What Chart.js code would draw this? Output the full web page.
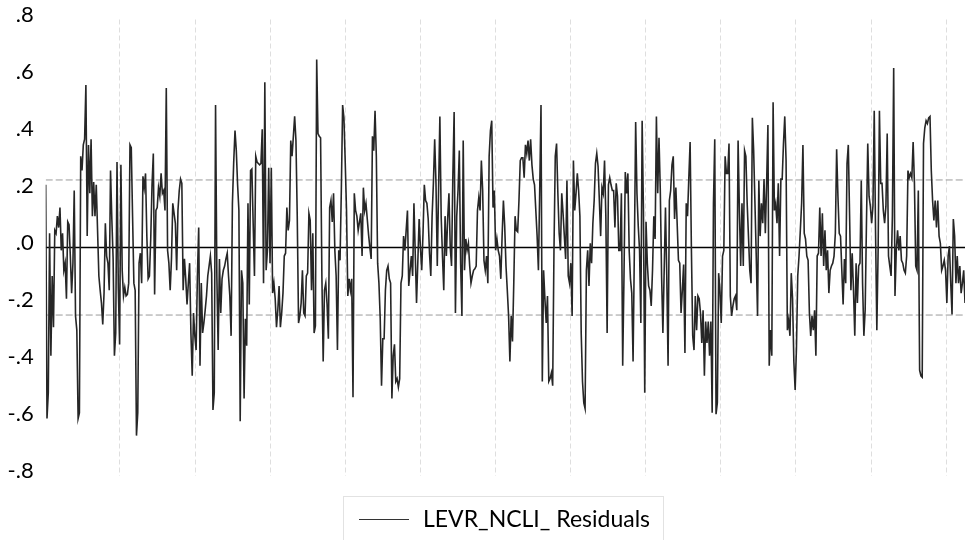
<!DOCTYPE html>
<html>
<head>
<meta charset="utf-8">
<script src="https://cdn.jsdelivr.net/npm/chart.js@4.4.1/dist/chart.umd.min.js"></script>
<style>
  html, body { margin: 0; padding: 0; background: #fff; overflow: hidden; }
  #wrap { position: relative; width: 966px; height: 540px; }
  #legend {
    position: absolute; left: 343px; top: 496px; width: 321px; height: 60px;
    border: 1px solid #e2e2e2; box-sizing: border-box;
    font-family: Lato, sans-serif; font-size: 23px; color: #000;
  }
  #legend .swatch { position: absolute; left: 15px; top: 22px; width: 50px; border-top: 1.5px solid #333; }
  #legend .label { position: absolute; left: 79px; top: 8px; line-height: 27px; white-space: nowrap; }
</style>
</head>
<body>
<div id="wrap">
  <canvas id="residChart" width="966" height="540"></canvas>
  <div id="legend"><span class="swatch"></span><span class="label">LEVR_NCLI_ Residuals</span></div>
</div>
<script>
// residuals (left to right)
const resid1 = [
  0.22, -0.60, -0.51, 0.05, -0.38, -0.10, -0.28, 0.06, 0.05, 0.11,
  0.07, 0.14, -0.01, 0.05, -0.08, -0.055, -0.18, 0.09, 0.08, -0.03,
  -0.16, -0.055, 0.20, -0.24, -0.29, -0.60, -0.58, 0.32, 0.27, 0.36,
  0.38, 0.57, 0.04, 0.36, 0.19, 0.38, 0.11, 0.23, 0.11, 0.22,
  0.06, -0.10, -0.15, -0.195, -0.27, -0.16, 0.085, -0.03, -0.055, -0.15,
  0.27, 0.10, -0.04, -0.38, -0.30, 0.30, -0.14, -0.34, 0.29, -0.08,
  -0.17, -0.14, -0.17, -0.165, -0.125, 0.36, 0.35, 0.11, -0.125, -0.15,
  -0.66, -0.58, -0.055, -0.02, -0.125, 0.25, 0.21, 0.26, 0.04, -0.11,
  -0.10, 0.03, 0.22, 0.33, -0.165
];
const resid2 = [
  0.13, 0.14, 0.21, 0.18, 0.26, 0.19, 0.20, 0.13, 0.56, -0.01,
  -0.055, -0.15, -0.04, 0.155, 0.12, 0.085, -0.08, 0.13, 0.20, 0.24,
  0.225, -0.15, -0.04, -0.11, -0.20, -0.125, -0.055, -0.30, -0.45, -0.23,
  -0.31, -0.36, -0.10, 0.07, -0.415, -0.125, -0.30, -0.265, -0.22, -0.17,
  -0.10, -0.065, -0.03, -0.09, -0.57, -0.51, 0.50, -0.10, -0.36, -0.04,
  -0.23, -0.11, -0.08, -0.065, -0.04, -0.02, -0.10, -0.17, -0.31, 0.155,
  0.30, 0.41, 0.34, 0.22, 0.13, -0.61, -0.08, -0.125, -0.53, -0.25,
  -0.345, 0.155, -0.20, 0.27, 0.275, 0.085, -0.10, 0.32, 0.30, 0.295,
  0.29, 0.295, 0.415, -0.125, 0.58, -0.08, -0.01, 0.28
];
const resid3 = [
  -0.055, 0.28, -0.16, -0.125, -0.18, -0.28, -0.22, -0.135, -0.28, -0.23,
  -0.16, -0.03, -0.02, 0.14, 0.06, 0.095, 0.375, 0.32, 0.39, 0.46,
  0.375, 0.11, -0.265, -0.24, -0.195, -0.08, -0.23, -0.24, -0.10, -0.09,
  0.12, 0.095, -0.15, 0.05, -0.30, -0.275, 0.66, 0.40, 0.39, 0.385,
  -0.10, -0.40, -0.15, -0.125, -0.20, -0.32, 0.14, 0.165, 0.09, 0.19,
  -0.01, -0.10, -0.36, -0.01, -0.045, 0.20, 0.50, 0.455, 0.30, 0.13,
  -0.17, -0.11, -0.15, -0.11, -0.525, 0.19, 0.13, 0.11, 0.06, 0.09,
  0.12, -0.03, 0.21, 0.13, 0.155, 0.10, 0.045, 0.0, -0.04, 0.39,
  0.34, 0.48, 0.32, -0.055, -0.125, -0.25, -0.485, -0.32
];
const resid4 = [
  -0.32, -0.15, -0.08, -0.065, -0.11, -0.125, -0.53, -0.38, -0.34, -0.47,
  -0.46, -0.49, -0.46, -0.125, -0.10, 0.04, -0.01, 0.06, 0.13, -0.135,
  -0.08, -0.03, -0.10, 0.155, -0.02, -0.195, -0.05, 0.10, 0.0, -0.08,
  0.05, 0.22, 0.165, 0.155, 0.10, -0.02, -0.10, 0.11, 0.225, 0.38,
  0.225, -0.065, 0.20, 0.46, 0.11, -0.03, -0.15, 0.11, -0.03, 0.10,
  0.19, 0.0, -0.065, 0.25, 0.475, -0.23, 0.11, 0.20, 0.34, -0.055,
  -0.24, 0.375, -0.08, 0.03, -0.01, 0.015, -0.065, -0.125, -0.10, -0.08,
  -0.075, -0.065, 0.13, 0.175, 0.13, 0.305, 0.20, -0.045, -0.08, -0.03,
  -0.125, 0.32, 0.41, 0.445, 0.14, 0.20, -0.01, 0.03, -0.01
];
const resid5 = [
  -0.03, -0.11, 0.04, 0.165, 0.075, -0.065, -0.15, -0.24, -0.40, -0.24,
  -0.33, -0.125, 0.11, 0.06, 0.055, 0.165, 0.305, 0.315, 0.315, 0.245,
  0.36, 0.33, 0.375, 0.305, 0.38, 0.29, 0.24, 0.22, 0.13, 0.04,
  -0.08, 0.20, 0.50, -0.47, -0.08, -0.18, -0.265, -0.17, -0.47, -0.46,
  -0.44, -0.485, -0.01, 0.32, 0.365, 0.19, 0.05, -0.01, 0.19, 0.12,
  0.04, -0.04, 0.235, -0.10, -0.125, -0.055, -0.24, 0.305, 0.13, 0.19,
  0.26, 0.20, 0.11, -0.30, -0.47, -0.545, -0.565, -0.08, -0.01, -0.135,
  0.015, -0.055, 0.085, 0.165, 0.295, 0.33, 0.285, 0.165, 0.04, 0.21,
  0.19, 0.305, 0.11, -0.30, 0.22, 0.245, 0.22, 0.20
];
const resid6 = [
  0.20, 0.07, 0.225, 0.18, -0.01, -0.01, 0.19, -0.415, -0.10, 0.265,
  0.19, 0.26, -0.01, -0.11, -0.16, -0.40, -0.01, 0.44, 0.19, 0.075,
  -0.01, -0.265, 0.445, 0.13, -0.51, 0.09, -0.055, -0.135, -0.15, -0.205,
  -0.08, 0.11, 0.03, 0.46, 0.19, 0.385, 0.20, -0.10, -0.30, -0.08,
  0.14, -0.10, -0.415, 0.165, 0.20, 0.29, 0.32, 0.10, 0.21, 0.085,
  -0.045, -0.055, -0.23, -0.15, -0.06, -0.37, 0.155, 0.11, 0.245, 0.37,
  -0.01, -0.31, -0.36, -0.17, -0.29, -0.17, -0.18, -0.23, -0.335, -0.22,
  -0.45, -0.26, -0.335, -0.26, -0.38, -0.26, -0.58, 0.155, 0.38, -0.585,
  -0.545, -0.09, -0.15, -0.265, -0.03, -0.01, 0.32, 0.26, 0.26
];
const resid7 = [
  0.365, -0.17, -0.24, -0.205, -0.18, -0.17, -0.22, 0.375, 0.13, -0.065,
  0.155, -0.065, 0.34, 0.32, 0.155, 0.04, -0.08, -0.125, 0.455, 0.34,
  0.155, -0.03, -0.24, 0.235, 0.04, 0.155, 0.085, 0.24, 0.05, 0.225,
  0.43, -0.415, -0.29, -0.38, 0.51, 0.13, 0.155, 0.085, 0.225, -0.03,
  0.24, 0.24, 0.365, 0.46, 0.305, -0.29, -0.255, -0.31, -0.09, -0.18,
  -0.40, -0.50, -0.355, -0.10, -0.03, 0.06, 0.155, 0.36, 0.05, 0.03,
  -0.03, -0.045, -0.23, -0.31, -0.24, -0.29, -0.22, -0.38, -0.03, -0.02,
  0.14, -0.03, 0.12, -0.065, 0.06, -0.08, -0.01, -0.16, -0.08, -0.065,
  -0.055, -0.03, 0.05, 0.345, 0.18, 0.05, 0.04, -0.08, -0.20
];
const resid8 = [
  -0.04, -0.125, 0.295, 0.36, 0.11, -0.15, -0.02, -0.15, -0.31, -0.055,
  -0.195, -0.065, -0.055, 0.235, -0.125, -0.31, -0.22, 0.085, 0.365, 0.18,
  0.145, 0.085, 0.145, 0.48, 0.06, -0.29, -0.01, 0.48, 0.225, 0.225,
  0.13, 0.085, 0.145, 0.40, -0.03, -0.065, -0.10, 0.11, 0.63, -0.17,
  -0.01, 0.06, -0.01, 0.04, -0.045, -0.055, -0.08, -0.09, -0.03, 0.27,
  0.245, 0.26, 0.245, 0.37, 0.225, -0.065, -0.08, 0.20, -0.43, -0.45,
  -0.455, 0.365, 0.42, 0.445, 0.435, 0.455, 0.46, 0.27, 0.165, 0.095,
  0.165, 0.07, 0.165, 0.04, 0.015, -0.08, -0.065, -0.045, -0.08, -0.195,
  -0.03, 0.005, -0.125, -0.235, 0.10, 0.04, -0.125, -0.03, -0.125, -0.065,
  -0.16, -0.125, -0.08, -0.195
];

const residuals = [].concat(resid1, resid2, resid3, resid4, resid5, resid6, resid7, resid8);
const N = residuals.length;

// +/- 1 S.E. band and y axis range
const seBand = 0.237;
const yMin = -0.8, yMax = 0.8, yStep = 0.2;

// vertical grid lines: 12 of them, first one a bit in from the left, as fraction of the sample
const gridFirst = 0.0808, gridStep = 0.0817, gridCount = 12;
const gridValues = Array.from({ length: gridCount }, (_, k) => (N - 1) * (gridFirst + k * gridStep));

const flat = v => [{ x: 0, y: v }, { x: N - 1, y: v }];

function fmtTick(v) {
  if (Math.abs(v) < 1e-9) return '.0';
  return v.toFixed(1).replace(/^(-?)0\./, '$1.');
}

const ctx = document.getElementById('residChart').getContext('2d');
const residChart = new Chart(ctx, {
  type: 'line',
  data: {
    datasets: [
      {
        label: 'LEVR_NCLI_ Residuals',
        data: residuals.map((v, i) => ({ x: i, y: v })),
        borderColor: '#262626',
        borderWidth: 1.6,
        pointRadius: 0,
        tension: 0,
        order: 0
      },
      { data: flat(0), borderColor: '#000', borderWidth: 1.3, pointRadius: 0, order: 1 },
      { data: flat(seBand), borderColor: '#9a9a9a', borderWidth: 1, borderDash: [7, 3], pointRadius: 0, order: 1 },
      { data: flat(-seBand), borderColor: '#9a9a9a', borderWidth: 1, borderDash: [7, 3], pointRadius: 0, order: 1 }
    ]
  },
  options: {
    responsive: false,
    animation: false,
    devicePixelRatio: 1,
    layout: { padding: { top: 19.5, right: 1, bottom: 64.5, left: 0 } },
    plugins: { legend: { display: false }, tooltip: { enabled: false } },
    scales: {
      x: {
        type: 'linear',
        min: 0,
        max: N - 1,
        ticks: { display: false },
        grid: { color: 'rgba(0,0,0,0.13)', lineWidth: 1, drawTicks: false },
        border: { display: false, dash: [5, 3] },
        afterBuildTicks: axis => { axis.ticks = gridValues.map(v => ({ value: v })); },
        afterFit: axis => { axis.height = 0; axis.paddingLeft = 0; axis.paddingRight = 0; }
      },
      y: {
        min: yMin,
        max: yMax,
        ticks: {
          stepSize: yStep,
          color: '#000',
          padding: 12,
          labelOffset: -5,
          font: { family: 'Lato', size: 22 },
          callback: v => fmtTick(v)
        },
        grid: { display: false, drawTicks: false },
        border: { display: false },
        afterFit: axis => { axis.width = 45.7; axis.paddingTop = 0; axis.paddingBottom = 0; }
      }
    }
  }
});
</script>
</body>
</html>
